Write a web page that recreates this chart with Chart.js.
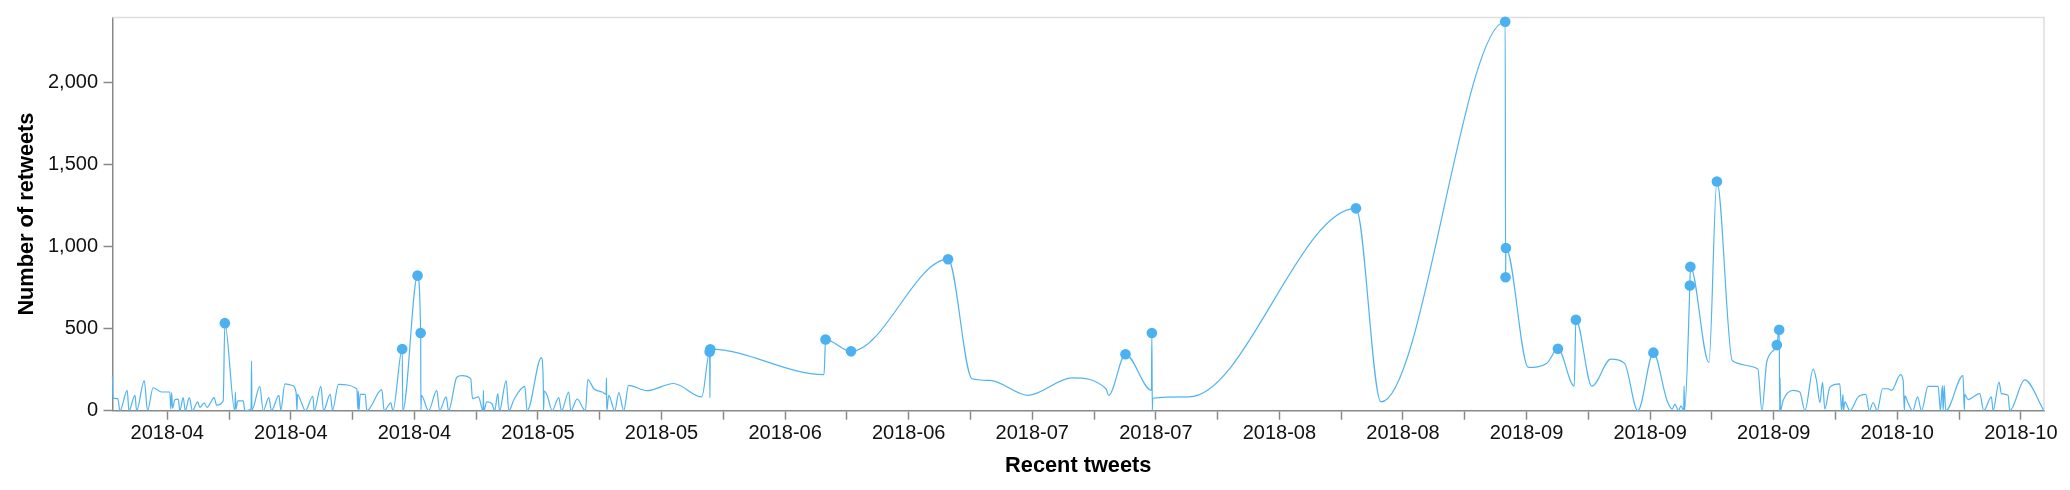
<!DOCTYPE html>
<html><head><meta charset="utf-8">
<script src="https://cdn.jsdelivr.net/npm/chart.js@4/dist/chart.umd.min.js"></script>
<style>html,body{margin:0;padding:0;background:#fff}#wrap{width:2070px;height:490px}</style>
</head><body><div id="wrap"><canvas id="c" width="2070" height="490"></canvas></div>
<script>
// Tweet times, in days after 2018-04-01 00:00
const tweetDay = [
-6.20,-6.15,-5.60,-5.36,-4.53,-4.34,-3.65,-3.47,-2.60,-2.23,-1.60,-0.64,0.30,0.40,0.50,0.60,0.87,1.25,1.43,1.81,
2.05,2.50,2.85,3.45,3.70,4.20,4.50,5.32,5.59,6.34,6.53,7.66,7.72,7.78,8.00,8.61,8.80,9.50,9.55,9.60,
10.49,10.87,11.51,11.81,12.65,12.87,13.33,14.20,14.60,14.70,14.75,15.20,15.65,16.50,16.65,17.41,17.71,18.46,18.73,19.40,
21.48,21.60,21.65,21.72,21.86,22.43,22.61,24.31,24.58,25.33,25.56,26.62,26.68,28.36,28.71,28.74,28.80,29.60,30.54,30.85,
31.60,31.87,32.81,33.38,34.39,34.58,35.26,35.78,35.82,35.86,36.21,36.77,37.10,37.45,37.64,38.40,38.70,39.30,40.51,40.77,
42.39,42.60,42.64,42.70,43.04,43.61,44.36,44.66,45.49,45.72,46.44,47.38,47.65,48.33,49.27,49.72,49.76,49.80,50.02,50.70,
51.16,51.72,52.27,54.34,57.36,60.56,61.45,61.48,61.52,74.41,74.58,77.47,88.46,91.18,93.21,97.52,102.50,106.35,106.65,108.56,
111.50,111.55,111.60,111.65,115.75,134.67,137.50,151.58,151.62,151.66,154.21,156.30,157.55,159.40,159.59,161.40,163.55,165.08,166.61,168.37,
169.90,170.50,170.80,171.20,171.50,171.80,171.85,171.90,172.50,172.56,174.66,175.56,177.32,180.20,180.66,181.22,182.35,182.62,182.68,182.72,
182.76,183.07,184.20,184.96,185.53,186.47,186.85,187.23,187.53,187.79,188.36,189.49,189.68,189.85,189.90,190.06,190.63,191.57,192.44,192.82,
193.27,193.72,194.33,194.97,195.35,196.37,196.67,196.80,196.86,197.20,197.75,198.30,198.74,199.49,200.63,200.89,201.10,201.20,201.31,201.49,
203.45,203.60,203.64,204.02,205.34,205.79,206.66,206.85,207.53,207.79,208.55,208.74,210.43,212.62
];
// Retweets per tweet
const retweets = [
214,78,74,0,124,0,94,0,184,0,140,114,114,10,110,15,68,70,0,80,
0,80,0,54,20,48,20,80,34,60,534,0,114,10,60,60,0,10,304,5,
148,0,80,0,94,4,164,154,110,0,100,50,0,88,0,148,0,100,4,160,
134,10,120,0,100,100,0,128,0,48,0,376,0,824,474,0,94,0,124,0,
84,0,204,214,194,74,84,0,124,0,54,44,0,104,0,184,0,70,148,0,
324,170,0,120,94,0,80,0,114,0,70,0,190,134,114,100,200,0,94,0,
110,0,154,122,166,84,360,78,375,220,434,362,924,195,185,94,200,134,94,344,
124,474,0,76,84,1234,54,2372,814,992,264,290,378,150,554,150,314,290,0,354,
64,10,40,0,30,0,150,0,764,878,294,1398,304,254,0,300,400,494,0,200,
0,64,124,114,0,254,184,50,174,10,144,164,0,100,0,54,0,84,100,0,
50,0,134,134,124,220,180,0,90,50,0,84,0,148,148,0,154,0,154,0,
214,0,100,68,104,0,84,0,174,104,94,0,188,0
];
// Weekly x ticks (days after 2018-04-01) and their labels
const tickDays = [0,7,14,21,28,35,42,49,56,63,70,77,84,91,98,105,112,119,126,133,140,147,154,161,168,175,182,189,196,203,210];
const tickLabels = ['2018-04','','2018-04','','2018-04','','2018-05','','2018-05','','2018-06','','2018-06','','2018-07','',
  '2018-07','','2018-08','','2018-08','','2018-09','','2018-09','','2018-09','','2018-10','','2018-10'];
const yTicks = [0,500,1000,1500,2000];
const yMax = 2398;
const dotThreshold = 330;

const FONT = "'Liberation Sans', Arial, Helvetica, sans-serif";
const lineColor = '#52b3f0';

const framePlugin = {
  id: 'frame',
  beforeDatasetsDraw(chart) {
    const {ctx, chartArea: a} = chart;
    ctx.save();
    ctx.strokeStyle = '#dddddd';
    ctx.lineWidth = 1.5;
    ctx.beginPath();
    ctx.moveTo(a.left, a.top);
    ctx.lineTo(a.right, a.top);
    ctx.lineTo(a.right, a.bottom);
    ctx.stroke();
    ctx.restore();
  }
};

new Chart(document.getElementById('c'), {
  type: 'line',
  data: {
    datasets: [{
      data: tweetDay.map((d, i) => ({x: d, y: retweets[i]})),
      borderColor: lineColor,
      borderWidth: 1.2,
      cubicInterpolationMode: 'monotone',
      fill: false,
      pointRadius: c => (retweets[c.dataIndex] >= dotThreshold ? 5.3 : 0),
      pointBackgroundColor: '#4cb1f0',
      pointBorderWidth: 0,
      pointHoverRadius: 0,
      clip: 10
    }]
  },
  options: {
    responsive: false,
    animation: false,
    devicePixelRatio: 1,
    events: [],
    layout: {padding: {top: 11, right: 26, bottom: 0, left: 0}},
    plugins: {legend: {display: false}, tooltip: {enabled: false}},
    scales: {
      x: {
        type: 'linear',
        min: tweetDay[0],
        max: tweetDay[tweetDay.length - 1],
        afterBuildTicks: s => { s.ticks = tickDays.map(v => ({value: v})); },
        afterFit: s => { s.height = 79.3; },
        ticks: {
          autoSkip: false, maxRotation: 0, minRotation: 0, padding: 2,
          color: '#111', font: {family: FONT, size: 20},
          callback: (v, i) => tickLabels[i]
        },
        grid: {display: true, drawOnChartArea: false, drawTicks: true, tickLength: 9, tickColor: '#888', tickWidth: 1.5},
        border: {display: true, color: '#888', width: 1.5},
        title: {display: true, text: 'Recent tweets', color: '#000',
          font: {family: FONT, size: 21.75, weight: 'bold'}, padding: {top: 0, bottom: 11}}
      },
      y: {
        type: 'linear',
        min: 0,
        max: yMax,
        afterBuildTicks: s => { s.ticks = yTicks.map(v => ({value: v})); },
        afterFit: s => { s.width = 112.5; },
        ticks: {
          padding: 5.5, color: '#111', font: {family: FONT, size: 20},
          callback: v => Number(v).toLocaleString('en-US')
        },
        grid: {display: true, drawOnChartArea: false, drawTicks: true, tickLength: 9, tickColor: '#888', tickWidth: 1.5},
        border: {display: true, color: '#888', width: 1.5},
        title: {display: true, text: 'Number of retweets', color: '#000',
          font: {family: FONT, size: 21.75, weight: 'bold'}, padding: {top: 14, bottom: 0}}
      }
    }
  },
  plugins: [framePlugin]
});
</script>
</body></html>
